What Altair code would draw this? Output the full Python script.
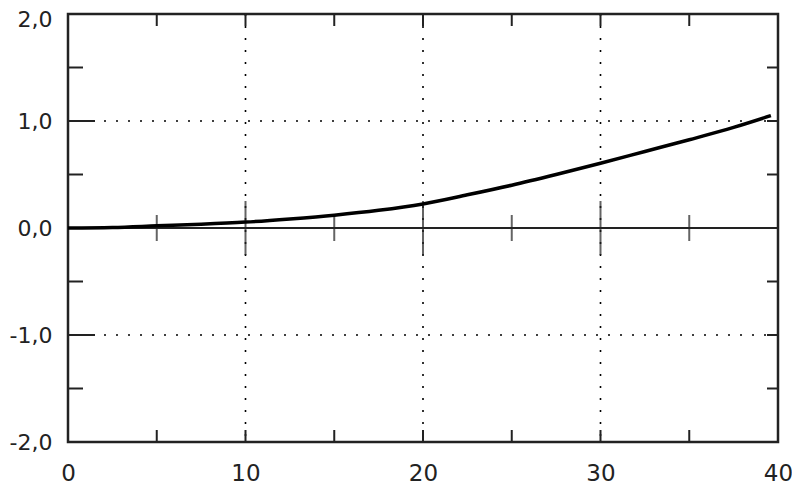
import altair as alt
import pandas as pd

# curve
curve_x = [0, 2.5, 5, 7.5, 10, 12.5, 15, 17.5, 20, 22.5, 25, 27.5, 30, 32.5, 35, 37.5, 39.6]
curve_y = [0, 0.005, 0.02, 0.035, 0.055, 0.085, 0.12, 0.165, 0.225, 0.31, 0.40, 0.50, 0.605, 0.715, 0.825, 0.94, 1.05]

x_labels = [0, 10, 20, 30, 40]
y_labels = [-2, -1, 0, 1, 2]
x_grid = [10, 20, 30]
y_grid = [-1, 1]
x_minor = [5, 15, 25, 35]
x_all_ticks = [5, 10, 15, 20, 25, 30, 35]
y_minor = [-1.5, -0.5, 0.5, 1.5]
y_right_ticks = [-1.5, -1, -0.5, 0.5, 1, 1.5]

W, H = 710, 428
xs = alt.Scale(domain=[0, 40], nice=False, zero=False)
ys = alt.Scale(domain=[-2, 2], nice=False, zero=False)

curve = pd.DataFrame({"x": curve_x, "y": curve_y})

xaxis = alt.Axis(values=x_labels, ticks=False, domain=False, grid=False, title=None,
                 labelFont="DejaVu Sans", labelFontSize=23, labelColor="#222",
                 labelPadding=20, labelFlush=False)
yaxis = alt.Axis(values=y_labels, ticks=False, domain=False, grid=False, title=None,
                 labelFont="DejaVu Sans", labelFontSize=22, labelColor="#222",
                 labelPadding=16, labelFlush=False,
                 labelOffset=alt.condition("datum.value == 2", alt.value(5), alt.value(0)),
                 labelExpr="replace(replace(format(datum.value, '.1f'), '.', ','), '\u2212', '-')")

line = alt.Chart(curve).mark_line(color="black", strokeWidth=3.5, interpolate="monotone").encode(
    x=alt.X("x:Q", scale=xs, axis=xaxis),
    y=alt.Y("y:Q", scale=ys, axis=yaxis),
)

grid_v = alt.Chart(pd.DataFrame({"x": x_grid})).mark_rule(
    color="black", strokeWidth=1.6, strokeDash=[2, 10]).encode(
    x=alt.X("x:Q", scale=xs), y=alt.value(0), y2=alt.value(H))
grid_h = alt.Chart(pd.DataFrame({"y": y_grid})).mark_rule(
    color="black", strokeWidth=1.6, strokeDash=[2, 10]).encode(
    y=alt.Y("y:Q", scale=ys), x=alt.value(0), x2=alt.value(W))

zero = alt.Chart(pd.DataFrame({"y": [0]})).mark_rule(color="#222", strokeWidth=2).encode(
    y=alt.Y("y:Q", scale=ys), x=alt.value(0), x2=alt.value(W))

tdf = pd.DataFrame({"x": x_all_ticks})
top_t = alt.Chart(tdf).mark_rule(color="#222", strokeWidth=2).encode(
    x=alt.X("x:Q", scale=xs), y=alt.value(0), y2=alt.value(12))
bot_t = alt.Chart(tdf).mark_rule(color="#222", strokeWidth=2).encode(
    x=alt.X("x:Q", scale=xs), y=alt.value(H - 12), y2=alt.value(H))

zero_minor = alt.Chart(pd.DataFrame({"x": x_minor, "y": [0] * len(x_minor)})).mark_tick(
    orient="vertical", size=26, thickness=2, color="#222").encode(
    x=alt.X("x:Q", scale=xs), y=alt.Y("y:Q", scale=ys))
zero_major = alt.Chart(pd.DataFrame({"x": x_grid, "y": [0] * len(x_grid)})).mark_tick(
    orient="vertical", size=54, thickness=2, color="#222").encode(
    x=alt.X("x:Q", scale=xs), y=alt.Y("y:Q", scale=ys))

left_minor = alt.Chart(pd.DataFrame({"y": y_minor})).mark_rule(color="#222", strokeWidth=2).encode(
    y=alt.Y("y:Q", scale=ys), x=alt.value(0), x2=alt.value(15))
left_major = alt.Chart(pd.DataFrame({"y": y_grid})).mark_rule(color="#222", strokeWidth=2).encode(
    y=alt.Y("y:Q", scale=ys), x=alt.value(0), x2=alt.value(27))
right_t = alt.Chart(pd.DataFrame({"y": y_right_ticks})).mark_rule(color="#222", strokeWidth=2).encode(
    y=alt.Y("y:Q", scale=ys), x=alt.value(W - 11), x2=alt.value(W))

chart = alt.layer(
    grid_v, grid_h, zero, top_t, bot_t, zero_minor, zero_major,
    left_minor, left_major, right_t, line
).properties(
    width=W, height=H,
    background="white",
    autosize=alt.AutoSizeParams(type="none"),
    padding={"left": 60, "top": 6, "right": 14, "bottom": 43},
).configure_view(stroke="#222", strokeWidth=2.5)

chart.save("out.html", embed_options={"renderer": "svg", "actions": False})
